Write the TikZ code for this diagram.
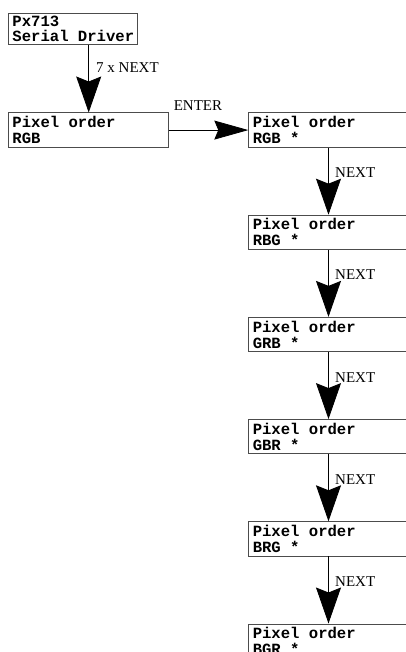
\documentclass[tikz,border=0pt]{standalone}
\usepackage{fontspec}
\setmainfont{Liberation Serif}
\setmonofont{Liberation Mono}
\usetikzlibrary{arrows.meta}

% one fixed character cell
\newcommand{\lcdsp}{\hspace*{0.6em}}

\tikzset{
  lcd/.style={draw=black!70, line width=0.9pt, anchor=north west,
    inner xsep=4pt, inner ysep=3.4pt, align=left, text width=#1,
    font=\ttfamily\bfseries\fontsize{15.6}{16}\selectfont},
  flow/.style={line width=0.8pt, -{Stealth[length=36pt, width=25pt, inset=5pt]}},
  side/.style={line width=0.8pt, -{Stealth[length=34pt, width=19pt, inset=4pt]}},
  tag/.style={anchor=base west, inner sep=0pt, font=\fontsize{15}{15}\selectfont}
}

\begin{document}
\begin{tikzpicture}[x=1pt, y=-1pt]
  \useasboundingbox (0,0) rectangle (405,652);

  \node[lcd=121pt, inner ysep=2.6pt,
    font=\ttfamily\bfseries\fontsize{15.6}{15.3}\selectfont] (dev) at (8,12.7) {Px713\\Serial\lcdsp Driver};
  \node[lcd=151.7pt] (order) at (8,112.5) {Pixel\lcdsp order\\RGB};

  \draw[flow] ([xshift=80.7pt]dev.south west) -- ([xshift=80.7pt]order.north west);
  \node[tag] (seven) at ([xshift=88pt, yshift=-28.3pt]dev.south west) {7 x NEXT};

  % choices of the pixel order
  \foreach \order [count=\i] in {RGB,RBG,GRB,GBR,BRG,BGR}
  {
  \node[lcd=172pt] (sel\i) at (248.3, {112.5+102.2*(\i-1)}) {Pixel\lcdsp order\\\order\lcdsp *};
  }

  \draw[side] (order.east) -- (sel1.west);
  \node[tag] (enter) at ([xshift=5pt, yshift=1.8pt]order.north east) {ENTER};

  \foreach \i [evaluate=\i as \j using int(\i+1)] in {1,...,5}
  {
  \draw[flow] ([xshift=80.2pt]sel\i.south west) -- ([xshift=80.2pt]sel\j.north west);
  \node[tag] (next\i) at ([xshift=86.7pt, yshift=-30pt]sel\i.south west) {NEXT};
  }
\end{tikzpicture}
\end{document}
